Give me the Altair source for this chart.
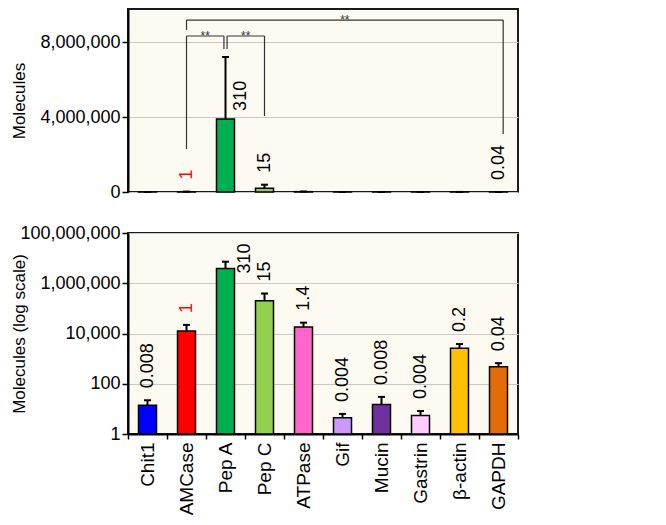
import altair as alt
import pandas as pd

FONT = "Liberation Sans"

genes = ["Chit1", "AMCase", "Pep A", "Pep C", "ATPase", "Gif", "Mucin", "Gastrin", "β-actin", "GAPDH"]
molecules = [14, 12500, 3900000, 200000, 18000, 4.4, 15, 5.5, 2600, 475]
err_top = [22, 22000, 7200000, 390000, 27000, 6.3, 30, 8.2, 3800, 660]
ratios = ["0.008", "1", "310", "15", "1.4", "0.004", "0.008", "0.004", "0.2", "0.04"]
colors = ["#0000FF", "#FF0000", "#00B050", "#92D050", "#FF66CC",
          "#CC99FF", "#7030A0", "#FFCCFF", "#FFC000", "#E36C09"]
label_colors = ["black", "red", "black", "black", "black",
                "black", "black", "black", "black", "black"]
top_labeled = ["AMCase", "Pep C", "GAPDH"]

# significance brackets (top panel): left gene, right gene, bar height, left-leg end, right-leg end, leg shifts
brackets = [
    ("AMCase", "Pep A", 8.32e6, 2.29e6, 7.63e6, 0.0, -0.04),
    ("Pep A", "Pep C", 8.32e6, 7.63e6, 4.05e6, 0.04, 0.0),
    ("AMCase", "GAPDH", 9.17e6, 8.64e6, 3.09e6, 0.0, 0.12),
]

df = pd.DataFrame({"gene": genes, "molecules": molecules, "err_top": err_top,
                   "ratio": ratios, "color": colors, "label_color": label_colors})

seg_rows, star_rows = [], []
for left, right, top, lend, rend, ls, rs in brackets:
    xl = genes.index(left) + 0.5 + ls
    xr = genes.index(right) + 0.5 + rs
    seg_rows.append({"x": xl, "x2": xl, "y": lend, "y2": top})
    seg_rows.append({"x": xl, "x2": xr, "y": top, "y2": top})
    seg_rows.append({"x": xr, "x2": xr, "y": top, "y2": rend})
    star_rows.append({"x": (xl + xr) / 2, "y": top, "t": "**"})
segs = pd.DataFrame(seg_rows)
stars = pd.DataFrame(star_rows)

band = alt.Scale(domain=genes, paddingInner=0, paddingOuter=0)


def band_layers(y_scale, y_axis, x_axis, log=False, labeled=None, pep_dx=8, pep_dy=15):
    x = alt.X("gene:N", sort=genes, scale=band, axis=x_axis)

    def Y(field):
        return alt.Y(field, scale=y_scale, axis=y_axis)

    enc = dict(x=x, y=Y("molecules:Q"), color=alt.Color("color:N", scale=None))
    if log:
        enc["y2"] = alt.datum(1)
    bars = alt.Chart(df).mark_bar(size=18, stroke="black", strokeWidth=1.5).encode(**enc)
    err = alt.Chart(df).mark_rule(color="black", strokeWidth=2).encode(
        x=x, y=Y("molecules:Q"), y2="err_top:Q")
    cap = alt.Chart(df).mark_tick(color="black", size=7, thickness=2, opacity=1).encode(
        x=x, y=Y("err_top:Q"))
    txt_src = alt.Chart(df)
    if labeled is not None:
        txt_src = txt_src.transform_filter(alt.FieldOneOfPredicate(field="gene", oneOf=labeled))
    else:
        txt_src = txt_src.transform_filter(alt.datum.gene != "Pep A")
    txt = txt_src.mark_text(angle=270, align="left", baseline="middle", dx=12,
                            fontSize=18, font=FONT).encode(
        x=x, y=Y("err_top:Q"), text="ratio:N",
        color=alt.Color("label_color:N", scale=None))
    pep = alt.Chart(df).transform_filter(alt.datum.gene == "Pep A").mark_text(
        angle=270, align="left", baseline="middle", dx=pep_dx, dy=pep_dy,
        fontSize=18, font=FONT).encode(
        x=x, y=Y("molecules:Q"), text="ratio:N",
        color=alt.Color("label_color:N", scale=None))
    return [bars, err, cap, txt, pep]


# ---- top panel (linear) ----
top_scale = alt.Scale(domain=[0, 9760000], nice=False, zero=True)
top_axis = alt.Axis(values=[0, 4000000, 8000000], format=",.0f", title="Molecules",
                    titleX=-100, grid=True)
top_layers = band_layers(top_scale, top_axis, None, log=False, labeled=top_labeled,
                         pep_dx=8, pep_dy=15)

xq = alt.X("x:Q", scale=alt.Scale(domain=[0, 10], nice=False, zero=False), axis=None)
ann_rules = alt.Chart(segs).mark_rule(color="#333333", strokeWidth=1.2).encode(
    x=xq, x2="x2:Q", y=alt.Y("y:Q", scale=top_scale, axis=top_axis), y2="y2:Q")
ann_stars = alt.Chart(stars).mark_text(fontSize=12, font=FONT, baseline="alphabetic",
                                       dy=4, color="#333333").encode(
    x=xq, y=alt.Y("y:Q", scale=top_scale, axis=top_axis), text="t:N")
top = alt.layer(*top_layers, ann_rules, ann_stars).resolve_scale(
    x="independent").properties(width=390, height=183)

# ---- bottom panel (log) ----
bot_scale = alt.Scale(type="log", domain=[1, 100000000], nice=False)
bot_axis = alt.Axis(values=[1, 100, 10000, 1000000, 100000000], format=",",
                    title="Molecules (log scale)", titleX=-100, grid=True)
bot_x_axis = alt.Axis(title=None, labelAngle=270, labelFontSize=19, tickBand="extent",
                      tickSize=5, labelPadding=3, grid=False)
bottom = alt.layer(*band_layers(bot_scale, bot_axis, bot_x_axis, log=True, labeled=None,
                                pep_dx=-5, pep_dy=19)).properties(width=390, height=201)

chart = alt.vconcat(top, bottom, spacing=41, bounds="flush").properties(
    padding=0
).configure_view(
    fill="#FDFAF2", stroke="#1a1a1a", strokeWidth=2
).configure_axis(
    labelFont=FONT, titleFont=FONT, labelFontSize=18, titleFontSize=17,
    titleFontWeight="normal", labelColor="black", titleColor="black",
    domainColor="black", domainWidth=2, tickColor="black", tickWidth=1.5,
    tickSize=6, labelPadding=2, gridColor="#c8c8c8", gridWidth=1
)

chart.save("out.html", embed_options={"renderer": "svg", "actions": False})
